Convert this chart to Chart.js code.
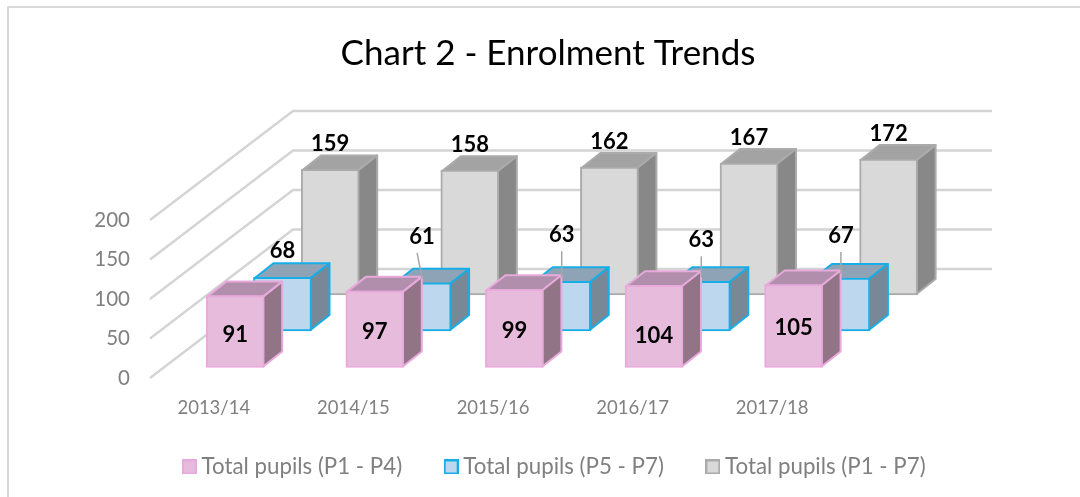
<!DOCTYPE html>
<html>
<head>
<meta charset="utf-8">
<title>Chart 2 - Enrolment Trends</title>
<script src="https://cdn.jsdelivr.net/npm/chart.js@4"></script>
<style>
  html, body { margin: 0; padding: 0; background: #fff; }
  #wrap { position: relative; width: 1080px; height: 497px; }
</style>
</head>
<body>
<div id="wrap"><canvas id="grafico" width="1080" height="497"></canvas></div>
<script>
const years = ['2013/14', '2014/15', '2015/16', '2016/17', '2017/18'];
const seriesNames = ['Total pupils (P1 - P4)', 'Total pupils (P5 - P7)', 'Total pupils (P1 - P7)'];
const lowerPupils = [91, 97, 99, 104, 105];
const upperPupils = [68, 61, 63, 63, 67];
const totalPupils = [159, 158, 162, 167, 172];

// Apariencia de cada serie en 3D: desplazamiento del plano y colores de las caras
const faces = [
  { dx: 21.4, dy: -10.5, fill: '#E7BBDC', edge: '#E8A9DC', top: '#B18EAB', side: '#917587' },
  { dx: 68.7, dy: -47, fill: '#BDD7EE', edge: '#17AEE8', top: '#8EA3B5', side: '#788897' },
  { dx: 116.4, dy: -83, fill: '#D9D9D9', edge: '#ABABAB', top: '#A3A3A3', side: '#888888' },
];
const depthX = 19;
const depthY = 15;
const wallX = 143;
const wallY = -109;
const wallRight = 992;
const legendShift = 9;
const legendTop = 407.8;

// Ajustes manuales de las etiquetas, como en el original
const labelLift = [
  [-3.5, -2.5, -3, -9.5, -2],
  [26, 46, 46, 41, 42],
  [25.5, 25.5, 25.5, 25.5, 25.5],
];

// Cuadrito de la leyenda con su borde
function cuadrito(f) {
  const box = document.createElement('canvas');
  box.width = 15;
  box.height = 15;
  const c = box.getContext('2d');
  c.fillStyle = f.fill;
  c.strokeStyle = f.edge;
  c.lineWidth = 2;
  c.fillRect(1, 1, 13, 13);
  c.strokeRect(1, 1, 13, 13);
  return box;
}

const cajas3d = {
  id: 'cajas3d',
  afterLayout(chart) {
    chart.legend.left += legendShift;
    chart.legend.right += legendShift;
    chart.legend.top = legendTop;
  },
  beforeDraw(chart) {
    const c = chart.ctx;
    c.save();
    c.strokeStyle = '#D9D9D9';
    c.lineWidth = 2;
    c.strokeRect(8, 7, 1200, 600);
    c.restore();
  },
  beforeDatasetsDraw(chart) {
    // Paredes: líneas de la cuadrícula en el suelo lateral y en el fondo
    const c = chart.ctx;
    const y = chart.scales.y;
    const x0 = chart.chartArea.left + 6;
    c.save();
    c.strokeStyle = '#D4D4D4';
    c.lineWidth = 2.4;
    y.ticks.forEach(t => {
      const py = y.getPixelForValue(t.value);
      c.beginPath();
      c.moveTo(x0, py);
      c.lineTo(x0 + wallX, py + wallY);
      c.lineTo(wallRight, py + wallY);
      c.stroke();
    });
    c.restore();
  },
  beforeDatasetDraw(chart, args) {
    const c = chart.ctx;
    const f = faces[args.index];
    c.save();
    c.translate(f.dx, f.dy);
    c.lineWidth = 2;
    c.lineJoin = 'round';
    c.strokeStyle = f.edge;
    args.meta.data.forEach(bar => {
      const p = bar.getProps(['x', 'y', 'base', 'width']);
      const l = p.x - p.width / 2 + 1;
      const r = p.x + p.width / 2 - 1;
      c.fillStyle = f.top;
      c.beginPath();
      c.moveTo(l, p.y + 1);
      c.lineTo(l + depthX, p.y + 1 - depthY);
      c.lineTo(r + depthX, p.y + 1 - depthY);
      c.lineTo(r, p.y + 1);
      c.closePath();
      c.fill();
      c.stroke();
      c.fillStyle = f.side;
      c.beginPath();
      c.moveTo(r, p.y + 1);
      c.lineTo(r + depthX, p.y + 1 - depthY);
      c.lineTo(r + depthX, p.base - 1 - depthY);
      c.lineTo(r, p.base - 1);
      c.closePath();
      c.fill();
      c.stroke();
    });
  },
  afterDatasetDraw(chart) {
    chart.ctx.restore();
  },
  afterDatasetsDraw(chart) {
    const c = chart.ctx;
    c.save();
    c.font = 'bold 22px Lato';
    c.textAlign = 'center';
    c.textBaseline = 'middle';
    c.fillStyle = '#000';
    chart.data.datasets.forEach((ds, i) => {
      chart.getDatasetMeta(i).data.forEach((bar, j) => {
        const p = bar.getProps(['x', 'y', 'base']);
        const cx = p.x + faces[i].dx;
        const top = p.y + faces[i].dy;
        const base = p.base + faces[i].dy;
        const ly = i === 0 ? (top + base) / 2 - labelLift[i][j] : top - labelLift[i][j];
        // Línea guía para las etiquetas separadas de su barra
        if (i === 1 && j > 0) {
          c.strokeStyle = '#A6A6A6';
          c.lineWidth = 1.5;
          c.beginPath();
          c.moveTo(cx - (j === 1 ? 5 : 0), ly + 16);
          c.lineTo(cx, top - 4);
          c.stroke();
        }
        c.fillText(ds.data[j], cx, ly);
      });
    });
    c.restore();
  },
};

const chart = new Chart(document.getElementById('grafico').getContext('2d'), {
  type: 'bar',
  data: {
    labels: years,
    datasets: [lowerPupils, upperPupils, totalPupils].map((values, i) => ({
      label: seriesNames[i],
      data: values,
      backgroundColor: faces[i].fill,
      borderColor: faces[i].edge,
      borderWidth: 2,
      borderSkipped: false,
      barThickness: 58,
      clip: false,
    })),
  },
  options: {
    responsive: false,
    animation: false,
    layout: { padding: { left: 16, right: 0, top: 0, bottom: 0 } },
    plugins: {
      title: {
        display: true,
        text: 'Chart 2 - Enrolment Trends',
        color: '#000',
        font: { family: 'Lato', size: 35, weight: 'normal', lineHeight: 1.2 },
        padding: { top: 33, bottom: 145 },
      },
      legend: {
        position: 'bottom',
        maxHeight: 80,
        labels: {
          color: '#808080',
          font: { family: 'Lato', size: 22.3 },
          usePointStyle: true,
          pointStyleWidth: 2,
          boxHeight: 14,
          padding: 48,
          generateLabels: ch => ch.data.datasets.map((ds, i) => ({
            text: ds.label,
            fontColor: '#808080',
            pointStyle: cuadrito(faces[i]),
            datasetIndex: i,
          })),
        },
      },
      tooltip: { enabled: false },
    },
    scales: {
      x: {
        grid: { display: false },
        border: { display: false },
        ticks: { color: '#808080', font: { family: 'Lato', size: 18.5 }, padding: 11, maxRotation: 0 },
        afterFit: s => { s.height = 39; },
      },
      y: {
        min: 0,
        max: 200,
        grid: { display: false },
        border: { display: false },
        ticks: { stepSize: 50, color: '#808080', font: { family: 'Lato', size: 20.5 }, padding: 6 },
        afterFit: s => { s.width = 128; },
      },
      derecha: {
        position: 'right',
        grid: { display: false },
        border: { display: false },
        ticks: { display: false },
        afterFit: s => { s.width = 238; },
      },
    },
    datasets: { bar: { grouped: false } },
  },
  plugins: [cajas3d],
});
</script>
</body>
</html>
